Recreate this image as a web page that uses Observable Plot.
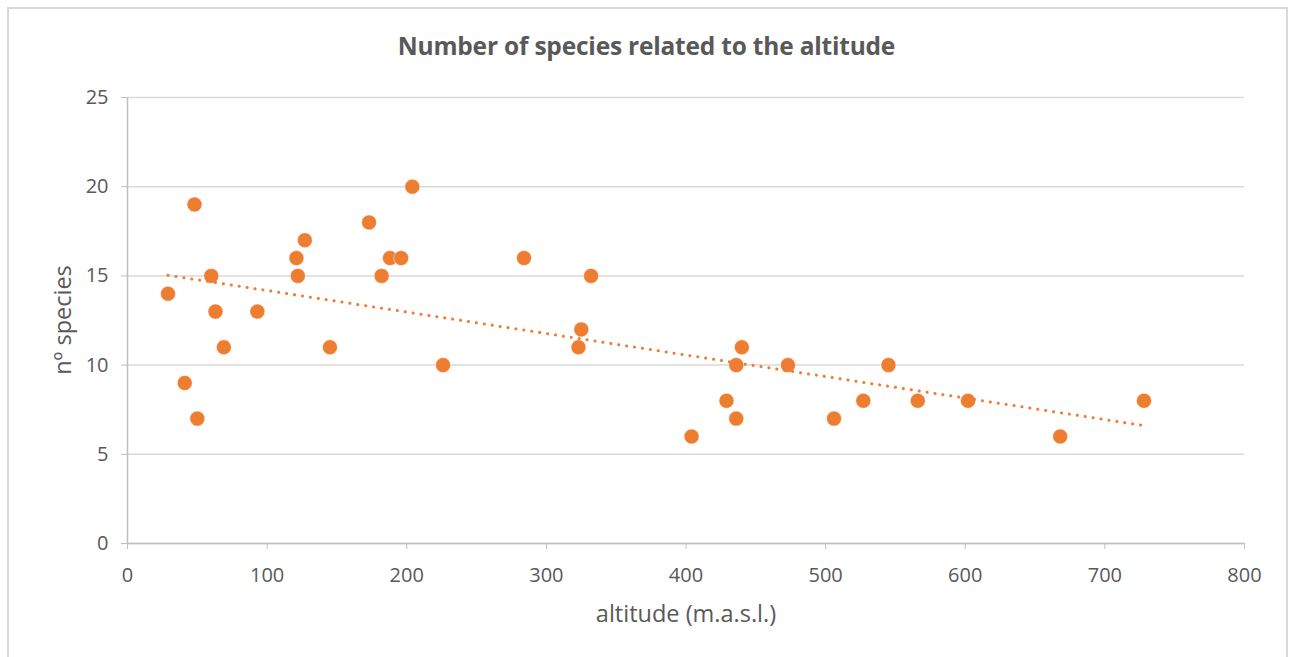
<!DOCTYPE html>
<html>
<head>
<meta charset="utf-8">
<script src="https://cdn.jsdelivr.net/npm/d3@7"></script>
<script src="https://cdn.jsdelivr.net/npm/@observablehq/plot@0.6"></script>
<style>
  html, body { margin: 0; padding: 0; background: #fff; }
  body { width: 1293px; height: 657px; position: relative; overflow: hidden; font-family: "Open Sans", sans-serif; color: #595959; }
  #frame { position: absolute; left: 7px; top: 7px; width: 1281px; height: 660px; border: 2px solid #d9d9d9; box-sizing: border-box; }
  #title { position: absolute; left: 0; width: 1293px; top: 29px; text-align: center; font-size: 24.5px; font-weight: bold; line-height: 34px; letter-spacing: -0.2px; }
  #chart { position: absolute; left: 0; top: 80px; }
  #ylabel { position: absolute; left: 62px; top: 320px; transform: translate(-50%, -50%) rotate(-90deg); font-size: 23.5px; white-space: nowrap; }
  #xlabel { position: absolute; left: 686px; top: 613px; transform: translate(-50%, -50%); font-size: 23.5px; white-space: nowrap; }
</style>
</head>
<body>
<div id="frame"></div>
<div id="title">Number of species related to the altitude</div>
<div id="chart"></div>
<div id="ylabel">nº species</div>
<div id="xlabel">altitude (m.a.s.l.)</div>
<script>
const altitude = [29, 41, 48, 50, 60, 63, 69, 93, 121, 122, 127, 145, 173, 182, 188, 196, 204, 226, 284, 323, 325, 332, 404, 429, 436, 436, 440, 473, 506, 527, 545, 566, 602, 668, 728];
const species  = [14, 9, 19, 7, 15, 13, 11, 13, 16, 15, 17, 11, 18, 15, 16, 16, 20, 10, 16, 11, 12, 15, 6, 8, 7, 10, 11, 10, 7, 8, 10, 8, 8, 6, 8];
const xTicks = [0, 100, 200, 300, 400, 500, 600, 700, 800];
const yTicks = [0, 5, 10, 15, 20, 25];

const data = altitude.map((a, i) => ({altitude: a, species: species[i]}));
const orange = "#ed7d31";

const plot = Plot.plot({
  width: 1293,
  height: 577,
  marginLeft: 127,
  marginRight: 49,
  marginTop: 17,
  marginBottom: 114,
  style: { fontFamily: "'Open Sans', sans-serif", fontSize: "20px", color: "#595959", background: "transparent" },
  x: { domain: [0, 800], ticks: xTicks },
  y: { domain: [0, 25], ticks: yTicks },
  marks: [
    Plot.gridY(yTicks, { stroke: "#d9d9d9", strokeOpacity: 1, strokeWidth: 1.5 }),
    Plot.ruleY([0], { stroke: "#bfbfbf", strokeWidth: 1.5 }),
    Plot.ruleX([0], { stroke: "#bfbfbf", strokeWidth: 1.5 }),
    Plot.axisY(yTicks, { tickSize: 6, tickPadding: 13, label: null, stroke: "#bfbfbf", fill: "#595959", fontSize: 20 }),
    Plot.axisX(xTicks, { tickSize: 6, tickPadding: 18, label: null, stroke: "#bfbfbf", fill: "#595959", fontSize: 20 }),
    Plot.dot(data, { x: "altitude", y: "species", r: 7.5, fill: orange, stroke: "#fff", strokeWidth: 0.5 }),
    Plot.linearRegressionY(data, { x: "altitude", y: "species", ci: 0, stroke: orange, strokeWidth: 3, strokeLinecap: "round", strokeDasharray: "0.1 7.9" })
  ]
});
document.getElementById("chart").appendChild(plot);
</script>
</body>
</html>
